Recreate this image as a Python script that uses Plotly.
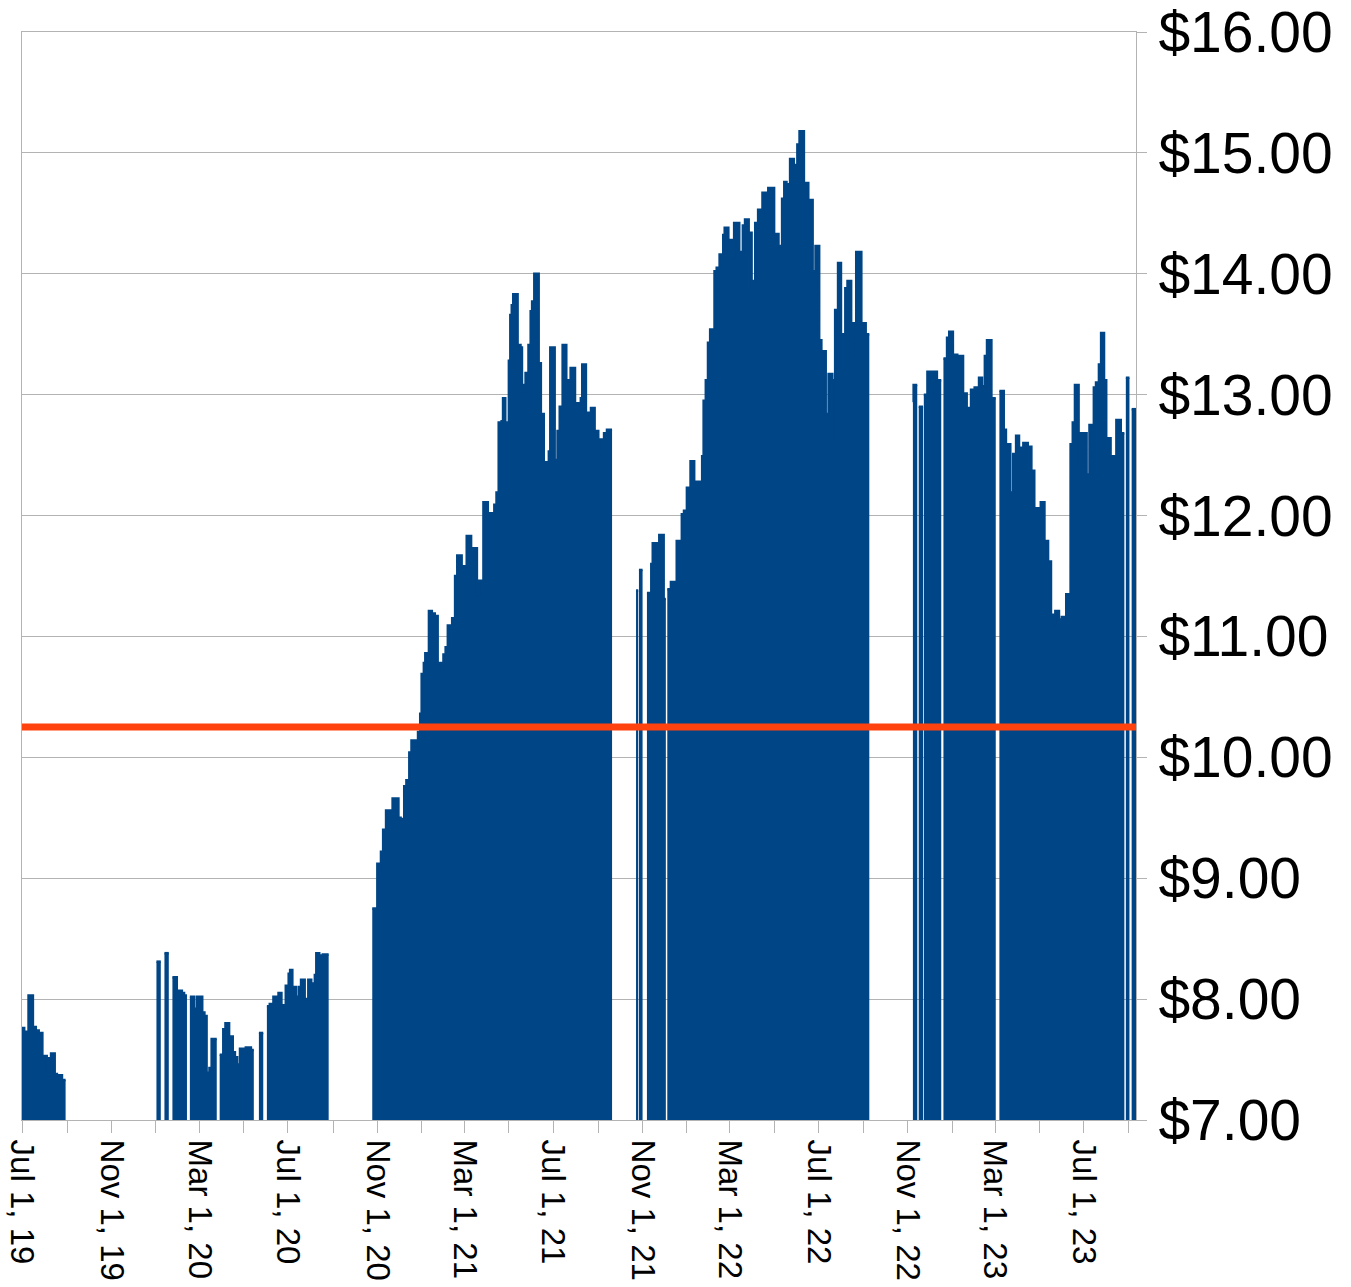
import plotly.graph_objects as go

# Price series: a date with a value starts a step; a date with None ends a run (no data after it)
dates = [
    "2019-07-01", "2019-07-04", "2019-07-07", "2019-07-10", "2019-07-16", "2019-07-20",
    "2019-07-24", "2019-07-29", "2019-08-04", "2019-08-07", "2019-08-10", "2019-08-15",
    "2019-08-18", "2019-08-25", "2019-08-30",
    "2020-01-02", "2020-01-08",
    "2020-01-13", "2020-01-19",
    "2020-01-24", "2020-01-30", "2020-02-02", "2020-02-06", "2020-02-09", "2020-02-13",
    "2020-02-17", "2020-02-23", "2020-02-27", "2020-03-05", "2020-03-08", "2020-03-11",
    "2020-03-15", "2020-03-18", "2020-03-25",
    "2020-03-29", "2020-04-03", "2020-04-06", "2020-04-11", "2020-04-16", "2020-04-19",
    "2020-04-22", "2020-04-26", "2020-05-01", "2020-05-04", "2020-05-11", "2020-05-15",
    "2020-05-22", "2020-05-28",
    "2020-06-02", "2020-06-06", "2020-06-11", "2020-06-15", "2020-06-18", "2020-06-22",
    "2020-06-26", "2020-06-28", "2020-07-02", "2020-07-04", "2020-07-07", "2020-07-12",
    "2020-07-16", "2020-07-19", "2020-07-24", "2020-07-29", "2020-08-02", "2020-08-07",
    "2020-08-09", "2020-08-13", "2020-08-18", "2020-08-26",
    "2020-10-25", "2020-11-01", "2020-11-06", "2020-11-09", "2020-11-13", "2020-11-22",
    "2020-11-30", "2020-12-03", "2020-12-08", "2020-12-11", "2020-12-15", "2020-12-18",
    "2020-12-24", "2020-12-27", "2020-12-30", "2021-01-01", "2021-01-04", "2021-01-06",
    "2021-01-11", "2021-01-15", "2021-01-19", "2021-01-23", "2021-01-28", "2021-01-31",
    "2021-02-03", "2021-02-06", "2021-02-10", "2021-02-12", "2021-02-16", "2021-02-19",
    "2021-02-25", "2021-03-04", "2021-03-10", "2021-03-12", "2021-03-18", "2021-03-21",
    "2021-03-27", "2021-04-02", "2021-04-05", "2021-04-11", "2021-04-14", "2021-04-17",
    "2021-04-21", "2021-04-23", "2021-04-26", "2021-05-01", "2021-05-03", "2021-05-05",
    "2021-05-07", "2021-05-13", "2021-05-17", "2021-05-19", "2021-05-22", "2021-05-24",
    "2021-05-28", "2021-05-31", "2021-06-02", "2021-06-05", "2021-06-11", "2021-06-14",
    "2021-06-18", "2021-06-25", "2021-06-27", "2021-07-03", "2021-07-07", "2021-07-10",
    "2021-07-14", "2021-07-19", "2021-07-25", "2021-07-31", "2021-08-08", "2021-08-10",
    "2021-08-15", "2021-08-22", "2021-08-27", "2021-09-01", "2021-09-06", "2021-09-09",
    "2021-09-13", "2021-09-20",
    "2021-10-23", "2021-10-26",
    "2021-10-27", "2021-11-01",
    "2021-11-07", "2021-11-13", "2021-11-15", "2021-11-21", "2021-11-24", "2021-11-30",
    "2021-12-03",
    "2021-12-05", "2021-12-10", "2021-12-18", "2021-12-25", "2021-12-28", "2022-01-01",
    "2022-01-06", "2022-01-11", "2022-01-22", "2022-01-24", "2022-01-27", "2022-01-30",
    "2022-02-02", "2022-02-08", "2022-02-11", "2022-02-15", "2022-02-20", "2022-02-22",
    "2022-02-27", "2022-03-05", "2022-03-07", "2022-03-14", "2022-03-19", "2022-03-22",
    "2022-03-27", "2022-03-31", "2022-04-02", "2022-04-05", "2022-04-09", "2022-04-15",
    "2022-04-20", "2022-04-23", "2022-05-01", "2022-05-07", "2022-05-12", "2022-05-15",
    "2022-05-18", "2022-05-23", "2022-05-28", "2022-06-02", "2022-06-05", "2022-06-11",
    "2022-06-17", "2022-06-23", "2022-06-27", "2022-07-02", "2022-07-05", "2022-07-11",
    "2022-07-15", "2022-07-20", "2022-07-21", "2022-07-24", "2022-07-28", "2022-08-01",
    "2022-08-07", "2022-08-10", "2022-08-15", "2022-08-18", "2022-08-22", "2022-08-29",
    "2022-09-04", "2022-09-09",
    "2022-11-08", "2022-11-09", "2022-11-14",
    "2022-11-16", "2022-11-22",
    "2022-11-23", "2022-11-28", "2022-12-03", "2022-12-05", "2022-12-11", "2022-12-17",
    "2022-12-20", "2022-12-25", "2022-12-28", "2023-01-02", "2023-01-08", "2023-01-16",
    "2023-01-21", "2023-01-27", "2023-02-01", "2023-02-07", "2023-02-11", "2023-02-15",
    "2023-02-18", "2023-02-24", "2023-03-02",
    "2023-03-07", "2023-03-13", "2023-03-16", "2023-03-22", "2023-03-26", "2023-03-30",
    "2023-04-03", "2023-04-09", "2023-04-15", "2023-04-20", "2023-04-24", "2023-04-30",
    "2023-05-03", "2023-05-08", "2023-05-13", "2023-05-17", "2023-05-21", "2023-05-23",
    "2023-05-28", "2023-06-01", "2023-06-07", "2023-06-13", "2023-06-16", "2023-06-19",
    "2023-06-24", "2023-06-27", "2023-07-05", "2023-07-09", "2023-07-15", "2023-07-18",
    "2023-07-22", "2023-07-25", "2023-07-29", "2023-08-01", "2023-08-07", "2023-08-15",
    "2023-08-21", "2023-08-26",
    "2023-08-28", "2023-09-02",
    "2023-09-05", "2023-09-11",
]

prices = [
    7.76, 7.68, 7.73, 8.03, 7.77, 7.74,
    7.72, 7.53, 7.37, 7.51, 7.55, 7.38,
    7.37, 7.33, None,
    8.31, None,
    8.38, None,
    8.18, 8.00, 8.07, 8.05, 8.03, None,
    8.02, 7.92, 8.02, 7.89, 7.86, 7.39,
    7.43, 7.67, None,
    7.54, 7.75, 7.80, 7.69, 7.56, 7.52,
    7.46, 7.59, 7.55, 7.60, 7.58, None,
    7.72, None,
    7.94, 7.96, 8.02, 7.99, 8.05, 7.95,
    7.91, 8.11, 8.21, 8.24, 8.10, 8.02,
    8.10, 8.16, 8.00, 8.16, 8.13, 8.20,
    8.38, 8.36, 8.37, None,
    8.75, 9.12, 9.22, 9.40, 9.56, 9.66,
    9.50, 9.49, 9.76, 9.81, 10.04, 10.14,
    10.10, 10.21, 10.36, 10.69, 10.78, 10.86,
    11.21, 11.19, 11.17, 10.78, 10.73, 10.85,
    10.91, 11.09, 10.94, 11.15, 11.50, 11.67,
    11.58, 11.83, 11.62, 11.73, 11.35, 11.46,
    12.11, 12.01, 12.02, 12.09, 12.19, 12.77,
    12.78, 12.97, 12.77, 13.28, 13.66, 13.74,
    13.83, 13.41, 13.39, 13.08, 13.03, 13.18,
    13.41, 13.69, 13.77, 14.00, 13.26, 12.84,
    12.44, 12.53, 13.39, 12.46, 12.70, 12.90,
    13.41, 13.12, 13.22, 12.93, 12.97, 13.25,
    12.85, 12.89, 12.70, 12.63, 12.48, 12.68,
    12.71, None,
    11.38, None,
    11.55, None,
    11.36, 11.60, 11.77, 11.68, 11.84, 11.31,
    None,
    11.39, 11.45, 11.79, 12.01, 12.04, 12.23,
    12.45, 12.28, 12.49, 12.95, 13.12, 13.43,
    13.54, 14.02, 14.05, 14.16, 14.32, 14.38,
    14.28, 14.13, 14.42, 14.18, 14.40, 14.45,
    14.34, 13.87, 13.94, 14.42, 14.53, 14.67,
    14.51, 14.71, 14.33, 14.23, 14.62, 14.76,
    14.74, 14.95, 14.90, 15.07, 15.18, 14.75,
    14.61, 14.02, 14.23, 13.45, 13.36, 12.84,
    13.17, 12.58, 13.12, 13.70, 14.09, 13.50,
    13.88, 13.94, 13.30, 13.59, 14.18, 13.59,
    13.50, None,
    12.94, 13.08, None,
    12.90, None,
    13.00, 13.19, 12.99, 13.19, 13.12, None,
    13.30, 13.47, 13.52, 13.33, 13.32, 13.01,
    12.89, 13.04, 13.06, 13.14, 13.07, 13.32,
    13.45, 12.97, None,
    13.03, 12.71, 12.59, 12.19, 12.51, 12.66,
    12.56, 12.60, 12.57, 12.37, 12.06, 12.01,
    12.11, 11.79, 11.62, 11.18, 11.10, 11.21,
    11.14, 11.16, 11.35, 12.59, 12.77, 13.08,
    12.41, 12.68, 12.34, 12.75, 13.06, 13.10,
    13.25, 13.51, 13.12, 12.64, 12.49, 12.79,
    12.68, None,
    13.14, None,
    12.88, None,
]

reference_level = 10.25
x_range = ["2019-07-01", "2023-09-11"]
y_range = [7, 16]
y_ticks = [7, 8, 9, 10, 11, 12, 13, 14, 15, 16]

BLUE = "#004586"
RED = "#ff420e"
GRID = "#b3b3b3"

fig = go.Figure()

# split into contiguous runs; a None value closes the current run at that date
run_x, run_y = [], []
for d, p in zip(dates, prices):
    if p is None:
        if run_x:
            run_x.append(d)
            run_y.append(run_y[-1])
            fig.add_trace(go.Scatter(
                x=run_x, y=run_y, mode="lines", line_shape="hv",
                line=dict(color=BLUE, width=2.5), fill="tozeroy",
                fillcolor=BLUE, showlegend=False, hoverinfo="skip"))
        run_x, run_y = [], []
    else:
        run_x.append(d)
        run_y.append(p)

fig.add_shape(type="line", xref="paper", x0=0, x1=1, yref="y",
              y0=reference_level, y1=reference_level,
              line=dict(color=RED, width=7), layer="above")

fig.update_layout(
    width=1351, height=1287,
    margin=dict(l=22, r=215, t=32, b=167),
    paper_bgcolor="white", plot_bgcolor="white",
    font=dict(family="Liberation Sans, Arial, sans-serif", color="black"),
    showlegend=False,
    xaxis=dict(
        type="date", range=x_range, tick0="2019-07-01", dtick="M4",
        tickformat="%b %-d, %y", tickangle=90, automargin=False,
        ticklabeloverflow="allow",
        tickfont=dict(size=33, color="black"),
        ticks="outside", ticklen=12, tickcolor=GRID, tickwidth=1,
        showgrid=False, zeroline=False,
        showline=True, linecolor=GRID, linewidth=1, mirror=True,
        minor=dict(dtick="M2", tick0="2019-07-01", ticks="outside", ticklen=12,
                   tickcolor=GRID, tickwidth=1, showgrid=False),
    ),
    yaxis=dict(
        side="right", range=y_range, tickmode="array", tickvals=y_ticks,
        tickformat="$.2f", automargin=False, ticklabeloverflow="allow",
        tickfont=dict(size=57, color="black"),
        ticks="outside", ticklen=10, tickcolor=GRID, tickwidth=1,
        showgrid=True, gridcolor=GRID, gridwidth=1, zeroline=False,
        showline=True, linecolor=GRID, linewidth=1, mirror=True,
    ),
)

fig.write_html("out.html", config={"displayModeBar": False},
               post_script="document.body.style.margin='0';")
